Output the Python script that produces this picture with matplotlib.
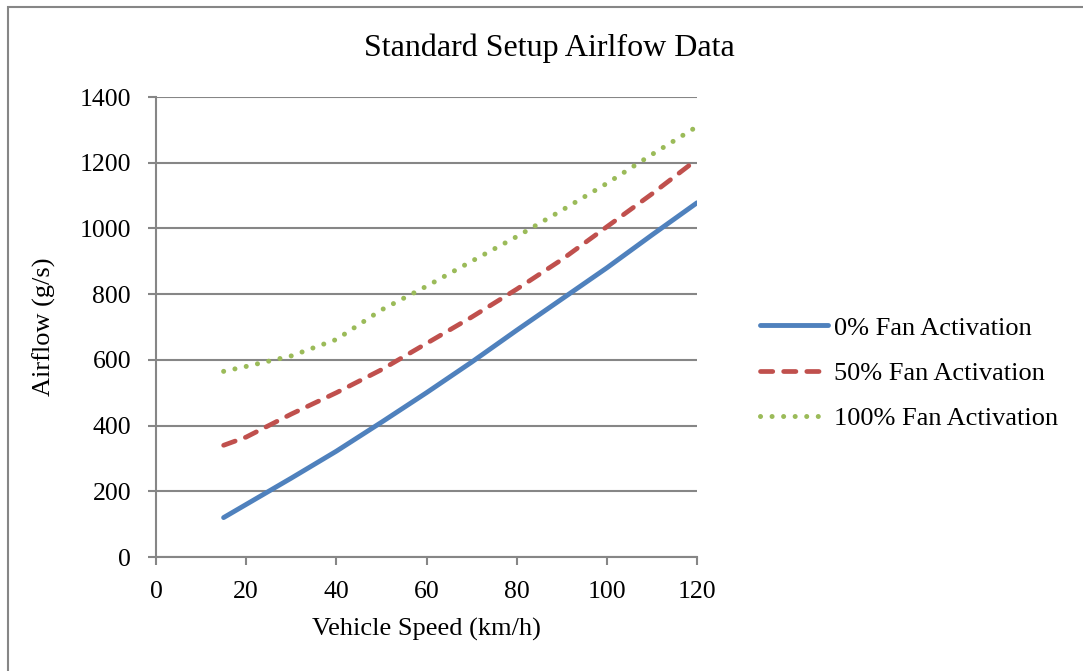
import matplotlib
matplotlib.use("Agg")
import matplotlib.pyplot as plt
from matplotlib.patches import Rectangle

# Values
speed = [15, 20, 30, 40, 50, 60, 70, 80, 90, 100, 110, 120]
fan_0 = [120, 160, 240, 322, 410, 500, 593, 690, 785, 880, 980, 1078]
fan_50 = [340, 365, 435, 500, 570, 650, 730, 815, 905, 1005, 1105, 1210]
fan_100 = [565, 580, 612, 662, 752, 824, 900, 975, 1055, 1137, 1225, 1310]
labels = ["0% Fan Activation", "50% Fan Activation", "100% Fan Activation"]

plt.rcParams["font.family"] = ["Liberation Serif", "DejaVu Serif"]
GRID = "#868686"

W, H = 1083, 671
fig = plt.figure(figsize=(W / 100, H / 100), dpi=100)
# chart-area border (right and bottom edges fall outside the image)
fig.patches.append(Rectangle((8 / W, -0.1), 1.2, 1 - 7 / H + 0.1, transform=fig.transFigure,
                             fill=False, edgecolor=GRID, linewidth=1.5))

ax = fig.add_axes([156 / W, 1 - 557 / H, (697 - 156) / W, (557 - 97) / H])

ax.plot(speed, fan_0, color="#4F81BD", lw=3.5, solid_capstyle="round", label=labels[0])
ax.plot(speed, fan_50, color="#C0504D", lw=3.4, dash_capstyle="round",
        linestyle=(0, (2.6, 2.3)), label=labels[1])
ax.plot(speed, fan_100, color="#9BBB59", lw=3.6, dash_capstyle="round",
        linestyle=(0, (0.01, 2.3)), label=labels[2])

ax.set_xlim(0, 120)
ax.set_ylim(0, 1400)
ax.set_xticks(range(0, 121, 20))
ax.set_yticks(range(0, 1401, 200))
ax.yaxis.grid(True, color=GRID, lw=1.5)
ax.set_axisbelow(True)
for s in ("top", "right"):
    ax.spines[s].set_visible(False)
for s in ("left", "bottom"):
    ax.spines[s].set_color(GRID)
    ax.spines[s].set_linewidth(1.5)
ax.tick_params(length=6, width=1.5, color=GRID, labelsize=18.5)
ax.tick_params(axis="y", pad=12)
ax.tick_params(axis="x", pad=11)

fig.text(549 / W, 1 - 48 / H, "Standard Setup Airlfow Data", fontsize=23, ha="center", va="center")
ax.set_xlabel("Vehicle Speed (km/h)", fontsize=19, labelpad=11)
ax.set_ylabel("Airflow (g/s)", fontsize=19, labelpad=17)

ax.legend(loc="center left", bbox_to_anchor=(736 / W, 1 - 373 / H), bbox_transform=fig.transFigure,
          frameon=False, fontsize=19, handlelength=2.6, handletextpad=0.2, labelspacing=0.82)

fig.savefig("out.png", dpi=100)
